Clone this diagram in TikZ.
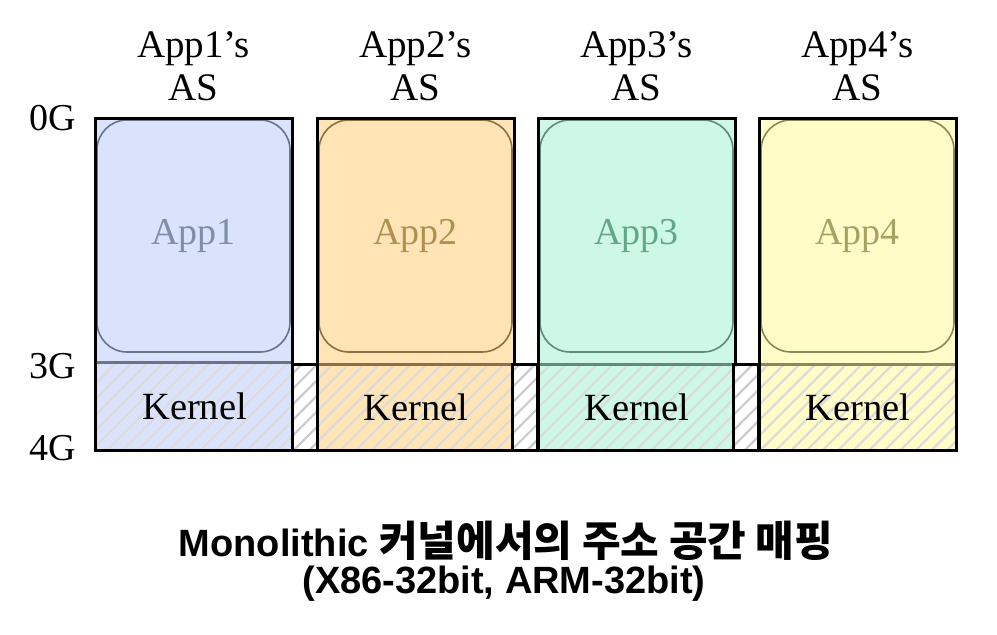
\documentclass[tikz,border=0pt]{standalone}
\usepackage{fontspec}
\setmainfont{Liberation Serif}
\newfontfamily\titlefont{Liberation Sans}
\newfontfamily\krfont{Noto Sans CJK KR}
\usetikzlibrary{patterns.meta}

\definecolor{fillA}{HTML}{DAE3FB}
\definecolor{lineA}{HTML}{66748C}
\definecolor{textA}{HTML}{7F8DA8}
\definecolor{fillB}{HTML}{FFE5B5}
\definecolor{lineB}{HTML}{8C7040}
\definecolor{textB}{HTML}{B0904E}
\definecolor{fillC}{HTML}{CDF8E5}
\definecolor{lineC}{HTML}{5E8C7A}
\definecolor{textC}{HTML}{62A888}
\definecolor{fillD}{HTML}{FFFCC8}
\definecolor{lineD}{HTML}{8C8856}
\definecolor{textD}{HTML}{A8A262}

\tikzset{
  colbox/.style={draw=none, minimum width=197pt, minimum height=332pt,
    anchor=north west, inner sep=0pt},
  kernbox/.style={minimum width=197pt, minimum height=85pt, anchor=south west,
    inner sep=0pt, font=\fontsize{38.5}{44}\selectfont,
    pattern={Lines[angle=45,distance=11pt,line width=2.2pt]}, pattern color=black!14},
  appbox/.style={rounded corners=30pt, line width=1.6pt, minimum width=193pt,
    minimum height=232pt, inner sep=0pt, font=\fontsize{38}{44}\selectfont},
  gapbox/.style={fill=white, minimum width=25pt, minimum height=85pt,
    anchor=south west, inner sep=0pt,
    postaction={pattern={Lines[angle=45,distance=11pt,line width=2.2pt]}, pattern color=black!20}},
  aslabel/.style={align=center, font=\fontsize{39}{43}\selectfont},
  gsize/.style={anchor=east, font=\fontsize{38}{44}\selectfont},
  caption/.style={font=\titlefont\bfseries\fontsize{38}{44}\selectfont},
}

\begin{document}
\begin{tikzpicture}[x=1pt, y=-1pt]
   \useasboundingbox (0,0) rectangle (997,635);
   % address spaces
   \foreach \i/\x/\c in {1/95/A, 2/317/B, 3/538/C, 4/759/D} {
      \node[colbox, fill=fill\c] (as\i) at (\x,118) {};
      \node[kernbox] (kern\i) at (\x,450) {Kernel};
      \node[appbox, draw=line\c, text=text\c] (app\i) at (\x+98.5,236) {App\i};
      \draw[line width=3pt, line\c] (kern\i.north west) -- (kern\i.north east);
      \draw[line width=3pt] (as\i.north west) rectangle (as\i.south east);
      \node[aslabel] (lbl\i) at (\x+98.5,66) {App\i’s\\AS};
   }
   % holes between the address spaces
   \node[gapbox] (gap1) at (292,450) {};
   \node[gapbox] (gap2) at (512,450) {};
   \node[gapbox] (gap3) at (733,450) {};
   \foreach \g in {1,2,3}
      \draw[line width=3pt] (gap\g.north west) rectangle (gap\g.south east);
   \draw[line width=3pt] (as1.south west) -- (as4.south east);
   % address marks
   \node[gsize] (g0) at (79,118) {0G};
   \node[gsize] (g3) at (79,366) {3G};
   \node[gsize] (g4) at (79,448) {4G};
   % caption
   \node[caption] (title) at (506,541)
      {Monolithic {\krfont\bfseries\fontsize{42}{44}\selectfont 커널에서의 주소 공간 매핑}};
   \node[caption] (subtitle) at (504,584)
      {(X86-32bit, ARM-32bit)};
\end{tikzpicture}
\end{document}
